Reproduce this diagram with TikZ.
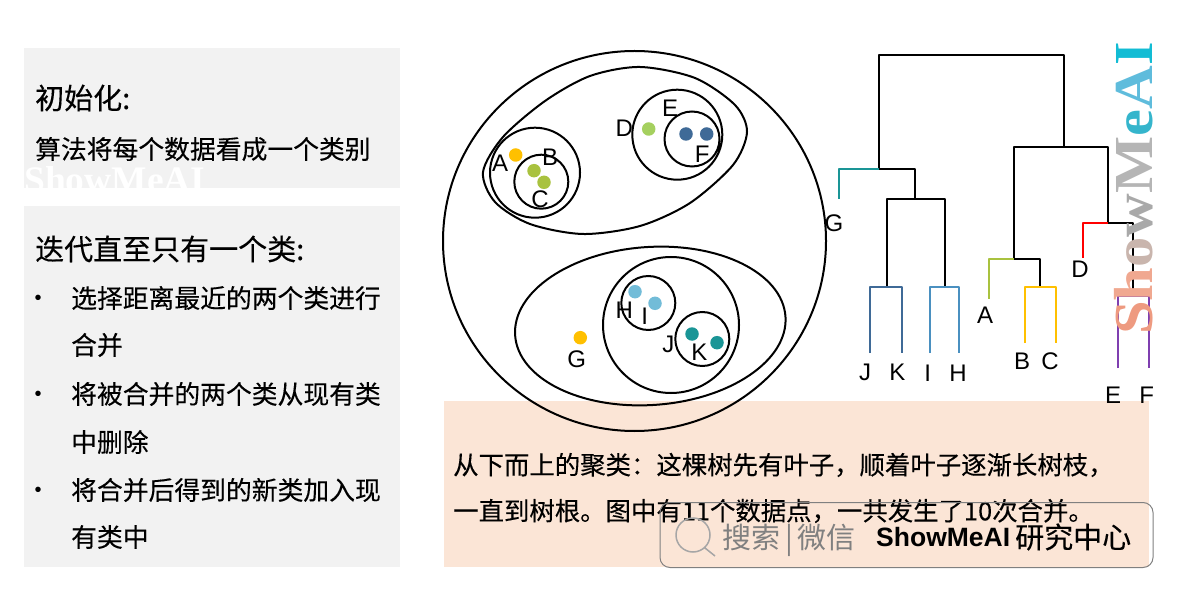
\documentclass[tikz,border=0pt]{standalone}
\usepackage{fontspec}
\setmainfont{Liberation Sans}
\newfontfamily\cjk[FakeBold=0.25]{Noto Sans CJK SC}
\newfontfamily\cjklight{Noto Sans CJK SC}
\newfontfamily\wmfont{Liberation Serif}
\definecolor{panelgray}{HTML}{F2F2F2}
\definecolor{panelpeach}{HTML}{FBE5D6}
\definecolor{dotorange}{HTML}{FFC000}
\definecolor{dotolive}{HTML}{A9C23F}
\definecolor{dotgreen}{HTML}{A5D05F}
\definecolor{dotnavy}{HTML}{3F6A97}
\definecolor{dotsky}{HTML}{72BCD8}
\definecolor{dotteal}{HTML}{1A9596}
\definecolor{branchblue}{HTML}{4A90C0}
\definecolor{branchgreen}{HTML}{A9C23F}
\definecolor{branchpurple}{HTML}{7F3FB0}
\tikzset{
	ring/.style={draw=black,line width=2pt},
	tree/.style={line width=2.7pt,line join=round},
	dotmark/.style={circle,fill=#1,inner sep=0pt,minimum size=13.5pt},
	letter/.style={font=\fontsize{24}{24}\selectfont,inner sep=0pt},
	title/.style={anchor=west,inner sep=0pt,font=\cjk\fontsize{29}{29}\selectfont},
	body/.style={anchor=west,inner sep=0pt,font=\cjk\fontsize{25.8}{26}\selectfont},
	note/.style={anchor=west,inner sep=0pt,font=\cjk\fontsize{25.4}{26}\selectfont},
	bulletmark/.style={inner sep=0pt,font=\fontsize{20}{20}\selectfont}
}
\begin{document}
\begin{tikzpicture}[x=1pt,y=-1pt]
	\useasboundingbox (0,0) rectangle (1182,593);
	\path
	(879,169) coordinate (L)
	(1064,147) coordinate (R)
	(839,199) coordinate (G0)
	(915,199) coordinate (JI)
	(887,287) coordinate (JK)
	(945,287) coordinate (IH)
	(870,353) coordinate (J0)
	(902,353) coordinate (K0)
	(930,353) coordinate (I0)
	(959,353) coordinate (H0)
	(1014,259) coordinate (ABC)
	(1108,223) coordinate (DEF)
	(989,299) coordinate (A0)
	(1040,287) coordinate (BC)
	(1025,343) coordinate (B0)
	(1056,343) coordinate (C0)
	(1083,258) coordinate (D0)
	(1133,296) coordinate (EF)
	(1118,368) coordinate (E0)
	(1149,368) coordinate (F0)
	;
	\fill[panelgray] (24,48) rectangle (400,188);
	\fill[panelgray] (24,206) rectangle (400,567);
	\fill[panelpeach] (444,401) rectangle (1149,567);
	\node[anchor=base west,inner sep=0pt,white,font=\wmfont\bfseries\fontsize{37.5}{37}\selectfont] (wmwhite) at (24,193) {ShowMeAI};
	\fill[white] (0,188) rectangle (440,206);
	\node[title] (inittitle) at (35,98) {初始化:};
	\node[body] (initbody) at (35,149) {算法将每个数据看成一个类别};
	\node[title] (looptitle) at (35,249) {迭代直至只有一个类:};
	\foreach \n/\y in {a/300,b/396,c/492}
		\node[bulletmark] (bullet\n) at (38,\y) {•};
	\node[body] (stepa) at (71,298) {选择距离最近的两个类进行};
	\node[body] (stepaa) at (71,345) {合并};
	\node[body] (stepb) at (71,394) {将被合并的两个类从现有类};
	\node[body] (stepbb) at (71,442) {中删除};
	\node[body] (stepc) at (71,490) {将合并后得到的新类加入现};
	\node[body] (stepcc) at (71,537) {有类中};
	\node[note] (notea) at (453,465) {从下而上的聚类：这棵树先有叶子，顺着叶子逐渐长树枝，};
	\node[note] (noteb) at (453,511) {一直到树根。图中有11个数据点，一共发生了10次合并。};
	\draw[ring] (634.5,241) ellipse (191.5 and 190);
	\draw[ring] plot[smooth cycle] coordinates {(483,172) (503,137) (545,101) (590,76) (640,67) (695,78) (735,105) (747,132) (733,165) (690,203) (640,226) (583,234) (530,224) (495,202)};
	\draw[ring] (535,172.7) circle (45) (541.3,181.7) circle (27);
	\draw[ring] (677.3,134.7) circle (45) (692,139) circle (27.5);
	\draw[ring,rotate around={4:(650.3,326)}] (650.3,326) ellipse (135.5 and 79);
	\draw[ring] (671,325) circle (68) (648.3,303) circle (27) (702.3,339) circle (27);
	\foreach \n/\x/\y/\c in {A/515.7/155/dotorange,B/534/170.7/dotolive,C/544/182.3/dotolive,D/648.7/129/dotgreen,E/686/134/dotnavy,F/706.7/134/dotnavy,G/580.3/337.7/dotorange,H/635/291.7/dotsky,I/655/303.3/dotsky,J/692/334/dotteal,K/717/342.7/dotteal}
		\node[dotmark=\c] (dot\n) at (\x,\y) {};
	\foreach \n/\x/\y in {A/500/163,B/550/157.3,C/540/199,D/624.3/128,E/670/108,F/702.3/154,G/576.7/359.3,H/624.3/310.7,I/644.7/316.7,J/668.3/344,K/699.3/352.7}
		\node[letter] (lbl\n) at (\x,\y) {\n};
	\foreach \n/\x/\y in {G/834/223,J/865/372.7,K/897.3/372.7,I/927.7/373,H/958/373,A/985/315.7,B/1022/361,C/1050/361,D/1080/269,E/1113/395,F/1146.7/395}
		\node[letter] (leaf\n) at (\x,\y) {\n};
	\draw[tree] (L)--++(0,-114)-|(R);
	\draw[tree] (L)-|(JI);
	\draw[tree] (JK)|-(JI)-|(IH);
	\draw[tree] (ABC)--(ABC|-R)-|(DEF);
	\draw[tree] (ABC)-|(BC);
	\draw[tree] (DEF)-|(EF);
	\draw[tree,dotteal] (L)-|(G0);
	\draw[tree,dotnavy] (J0)|-(JK)-|(K0);
	\draw[tree,branchblue] (I0)|-(IH)-|(H0);
	\draw[tree,branchgreen] (ABC)-|(A0);
	\draw[tree,dotorange] (B0)|-(BC)-|(C0);
	\draw[tree,red] (DEF)-|(D0);
	\draw[tree,branchpurple] (E0)|-(EF)-|(F0);
	\node[rotate=90,anchor=base west,inner sep=0pt,font=\wmfont\bfseries\fontsize{55}{55}\selectfont] (wmside) at (1152,335) {\scalebox{1.1}[1]{\textcolor[HTML]{EE9A80}{S}\textcolor[HTML]{F0A890}{h}\textcolor[HTML]{C9B5AD}{o}\textcolor[HTML]{A9A9A9}{w}\textcolor[HTML]{B5B5B5}{M}\textcolor[HTML]{35B5CC}{e}\textcolor[HTML]{5FBCDC}{A}\textcolor[HTML]{12BCD4}{I}}};
	\node[draw=gray,line width=1pt,rounded corners=10pt,minimum width=493pt,minimum height=65pt,inner sep=0pt] (searchbar) at (906.5,535) {};
	\draw[gray!70,line width=1.5pt] (693,535) circle (17) (705,548)--(715,556);
	\node[anchor=west,inner sep=0pt,gray,font=\cjklight\fontsize{29}{29}\selectfont] (searchtext) at (722,540) {搜索\,|\,微信};
	\node[anchor=west,inner sep=0pt,font=\bfseries\fontsize{26.5}{27}\selectfont] (brandtext) at (876,537) {ShowMeAI};
	\node[anchor=west,inner sep=0pt,font=\cjk\fontsize{29}{29}\selectfont] (brandcjk) at (1015,537) {研究中心};
\end{tikzpicture}
\end{document}
